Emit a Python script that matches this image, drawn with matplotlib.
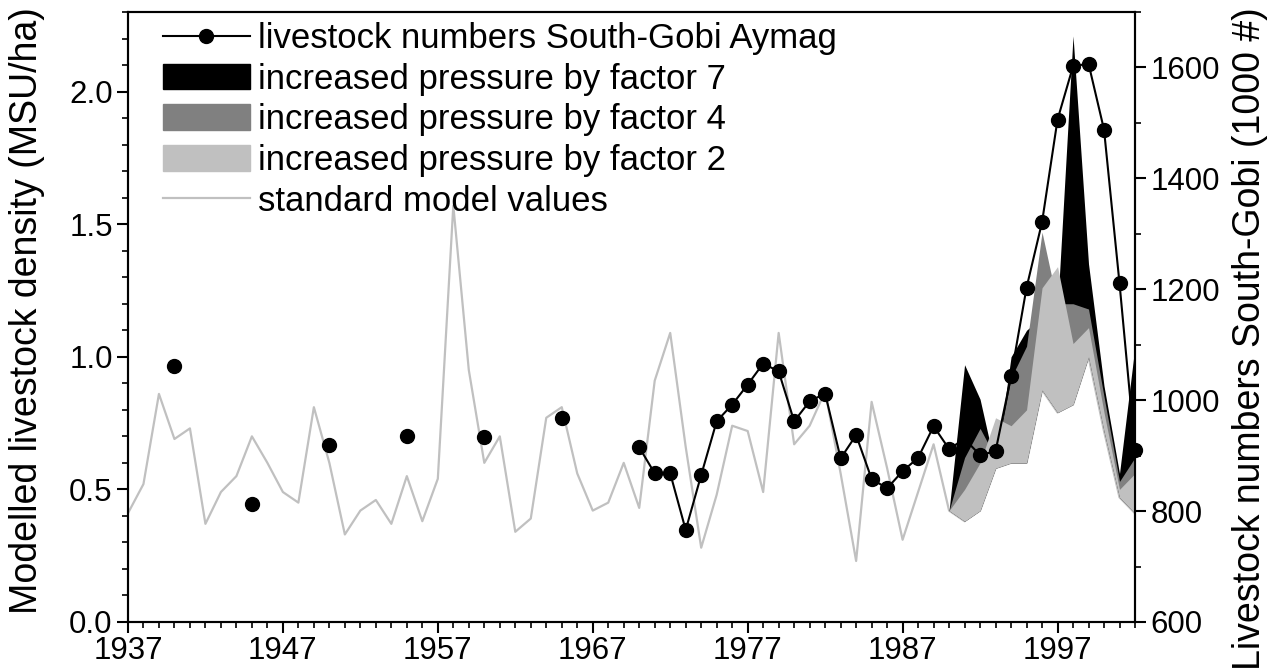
import numpy as np
import matplotlib.pyplot as plt
from matplotlib.ticker import MultipleLocator, FixedLocator
from matplotlib.lines import Line2D
from matplotlib.patches import Patch

plt.rcParams['font.family'] = ['Liberation Sans', 'DejaVu Sans']

# standard model values (MSU/ha), 1937-2002
std_years = list(range(1937, 2003))
std_vals = [0.41, 0.52, 0.86, 0.69, 0.73, 0.37, 0.49, 0.55, 0.70, 0.60,
            0.49, 0.45, 0.81, 0.60, 0.33, 0.42, 0.46, 0.37, 0.55, 0.38,
            0.54, 1.57, 0.95, 0.60, 0.70, 0.34, 0.39, 0.77, 0.81, 0.56,
            0.42, 0.45, 0.60, 0.43, 0.91, 1.09, 0.66, 0.28, 0.48, 0.74,
            0.72, 0.49, 1.09, 0.67, 0.74, 0.87, 0.56, 0.23, 0.83, 0.58,
            0.31, 0.49, 0.67, 0.42, 0.38, 0.42, 0.58, 0.60, 0.60, 0.875,
            0.79, 0.82, 1.00, 0.72, 0.47, 0.41]

# increased pressure scenarios, 1990-2002
sc_years = list(range(1990, 2003))
f2_vals = [0.42, 0.50, 0.60, 0.77, 0.74, 0.80, 1.26, 1.34, 1.05, 1.11, 0.79, 0.50, 0.56]
f4_vals = [0.42, 0.62, 0.73, 0.62, 0.92, 1.04, 1.47, 1.20, 1.20, 1.18, 0.85, 0.53, 0.62]
f7_vals = [0.42, 0.97, 0.84, 0.58, 1.00, 1.10, 1.15, 1.18, 2.21, 1.35, 0.89, 0.56, 1.04]

# livestock numbers South-Gobi (1000 head)
early_years = [1940, 1945, 1950, 1955, 1960, 1965]
early_nums = [1062, 812, 920, 935, 933, 967]
lvs_years = list(range(1970, 2003))
lvs_nums = [915, 868, 868, 766, 865, 962, 992, 1028, 1066, 1052,
            962, 998, 1012, 895, 937, 858, 841, 872, 896, 953,
            912, 930, 901, 908, 1043, 1203, 1321, 1506, 1602, 1607,
            1488, 1211, 910]

fig = plt.figure(figsize=(12.77, 6.68), dpi=100)
ax = fig.add_axes([0.1002, 0.0689, 0.7886, 0.9131])
ax2 = ax.twinx()

std_map = dict(zip(std_years, std_vals))
base = [std_map[y] for y in sc_years]

ax.plot(std_years, std_vals, color='#c0c0c0', lw=1.6, zorder=1)
ax.fill_between(sc_years, base, f7_vals, color='black', lw=0, zorder=2)
ax.fill_between(sc_years, base, f4_vals, color='#808080', lw=0, zorder=3)
ax.fill_between(sc_years, base, f2_vals, color='#c0c0c0', lw=0, zorder=4)

ax2.plot(early_years, early_nums, 'o', color='black', ms=10)
ax2.plot(lvs_years, lvs_nums, '-', color='black', lw=1.5)
ax2.plot(lvs_years, lvs_nums, 'o', color='black', ms=10, clip_on=False)

ax.set_xlim(1937, 2002)
ax.set_ylim(0, 2.3)
ax2.set_ylim(600, 1700)

ax.xaxis.set_major_locator(FixedLocator([1937, 1947, 1957, 1967, 1977, 1987, 1997]))
ax.xaxis.set_minor_locator(MultipleLocator(1))
ax.yaxis.set_major_locator(MultipleLocator(0.5))
ax.yaxis.set_minor_locator(MultipleLocator(0.1))
ax2.yaxis.set_major_locator(MultipleLocator(200))
ax2.yaxis.set_minor_locator(MultipleLocator(100))

for a in (ax, ax2):
    a.tick_params(which='major', direction='out', length=8, width=1.5, labelsize=22.5, pad=3)
    a.tick_params(which='minor', direction='out', length=4.5, width=1.2)
    for s in a.spines.values():
        s.set_linewidth(1.5)
ax.tick_params(axis='x', which='both', top=False)
ax.tick_params(axis='x', which='major', pad=2)
ax.yaxis.set_major_formatter(plt.FuncFormatter(lambda v, p: f'{v:.1f}'))

ax.set_ylabel('Modelled livestock density (MSU/ha)', fontsize=27)
ax.yaxis.set_label_coords(-0.082, 0.51)
ax2.set_ylabel('Livestock numbers South-Gobi (1000 #)', fontsize=27)
ax2.yaxis.set_label_coords(1.096, 0.465)

# legend proxies
handles = [
    Line2D([], [], color='black', lw=1.5, marker='o', ms=10),
    Patch(color='black'),
    Patch(color='#808080'),
    Patch(color='#c0c0c0'),
    Line2D([], [], color='#c0c0c0', lw=1.6),
]
labels = ['livestock numbers South-Gobi Aymag', 'increased pressure by factor 7',
          'increased pressure by factor 4', 'increased pressure by factor 2',
          'standard model values']
ax2.legend(handles, labels, loc='upper left', bbox_to_anchor=(163 / 1277, 1 - 22 / 668),
           bbox_transform=fig.transFigure, frameon=False, fontsize=25,
           handlelength=2.5, handleheight=0.75, handletextpad=0.25,
           labelspacing=0.22, borderpad=0, borderaxespad=0)

fig.savefig('out.png', dpi=100)
